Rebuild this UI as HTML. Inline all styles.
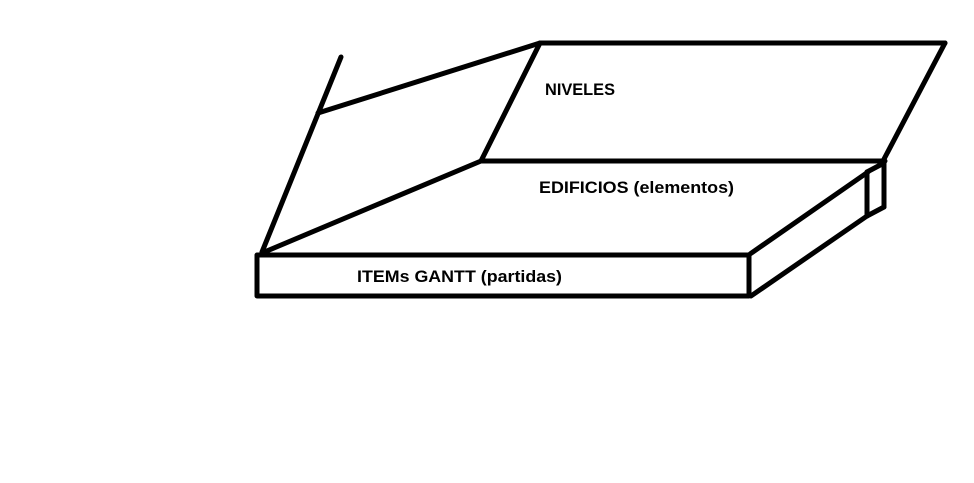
<!DOCTYPE html>
<html><head><style>
html,body{margin:0;padding:0;background:#fff;width:974px;height:483px;overflow:hidden}
svg{display:block}
text{font-family:"Liberation Sans",sans-serif;font-weight:bold;font-size:17px;fill:#000}
</style></head><body>
<svg width="974" height="483" viewBox="0 0 974 483">
<g stroke="#000" stroke-width="5" fill="none" stroke-linecap="round" stroke-linejoin="round">
<line x1="341" y1="57" x2="262" y2="252"/>
<line x1="318" y1="113" x2="540" y2="43"/>
<line x1="540" y1="43" x2="945" y2="43"/>
<line x1="945" y1="43" x2="883" y2="161"/>
<line x1="481" y1="161" x2="885" y2="161"/>
<line x1="540" y1="43" x2="481" y2="161"/>
<line x1="481" y1="161" x2="262" y2="253"/>
<rect x="257" y="255" width="492" height="41"/>
<line x1="750" y1="254" x2="868" y2="172"/>
<line x1="751" y1="296" x2="867" y2="216"/>
<line x1="867" y1="172" x2="867" y2="216"/>
<line x1="867" y1="172" x2="884" y2="163"/>
<line x1="884" y1="163" x2="884" y2="207"/>
<line x1="867" y1="216" x2="884" y2="207"/>
</g>
<text x="545" y="95" textLength="70" lengthAdjust="spacingAndGlyphs">NIVELES</text>
<text x="539" y="193" textLength="195" lengthAdjust="spacingAndGlyphs">EDIFICIOS (elementos)</text>
<text x="357" y="282" textLength="205" lengthAdjust="spacingAndGlyphs">ITEMs GANTT (partidas)</text>
</svg>
</body></html>
